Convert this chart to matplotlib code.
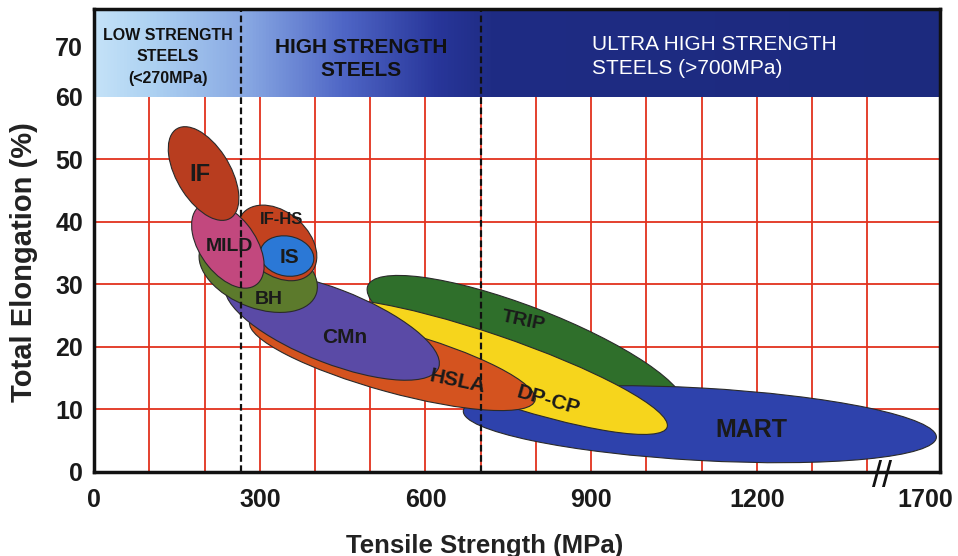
import matplotlib
matplotlib.use('Agg')
import matplotlib.pyplot as plt
import numpy as np
from matplotlib.patches import Ellipse
from matplotlib.transforms import Affine2D
from matplotlib.colors import LinearSegmentedColormap

plt.rcParams['font.family'] = ['Liberation Sans', 'DejaVu Sans']

# steel families, listed in drawing order (bottom first)
steels = ['TRIP', 'MART', 'DP-CP', 'HSLA', 'CMn', 'BH', 'IF-HS', 'IS', 'MILD', 'IF']
centre_mpa = [782, 1097, 717, 540, 431, 297, 331, 349, 242, 198]
centre_pct = [19.9, 7.6, 16.8, 17.7, 23.3, 32.0, 36.6, 34.5, 36.2, 47.7]
# half axes in grid cells (100 MPa x 10 %), tilt in degrees
half_len = [3.03, 4.29, 3.35, 2.66, 2.04, 1.11, 0.785, 0.49, 0.815, 0.866]
half_wid = [0.65, 0.58, 0.52, 0.50, 0.60, 0.585, 0.52, 0.32, 0.485, 0.47]
tilt = [-18.7, -2.8, -16.7, -13.6, -18.7, -17.8, -31.7, -8, -47.4, -53.4]

label_mpa = [777, 1191, 822, 659, 454, 316, 340, 354, 244, 192]
label_pct = [24.0, 6.7, 11.3, 14.5, 21.4, 27.5, 40.3, 34.2, 36.0, 47.5]

colours = ['#2f6f2b', '#2e42ac', '#f6d51c', '#d4531f', '#5a4aa6',
           '#5c7a2c', '#c3421f', '#2b78d6', '#c2487e', '#b83d1f']
label_rot = [-12, 0, -16, -12, 0, 0, 0, 0, 0, 0]
label_size = [14, 18, 15, 15, 15, 14, 12, 15, 14, 17]

x_ticks = [0, 300, 600, 900, 1200, 1505]   # axis is broken after 1400
x_tick_labels = ['0', '300', '600', '900', '1200', '1700']
y_ticks = [0, 10, 20, 30, 40, 50, 60, 68]
y_tick_labels = ['0', '10', '20', '30', '40', '50', '60', '70']
x_grid = np.arange(100, 1500, 100)
y_grid = [10, 20, 30, 40, 50]
class_limits = [265, 700]
xmax, ymax, band_bottom = 1532, 73.95, 60

fig = plt.figure(figsize=(9.58, 5.56), dpi=100)
ax = fig.add_axes([0.0984, 0.1516, 0.8828, 0.8314])

# header band with gradient
stops = [(0, '#c4e2f8'), (100 / xmax, '#aed2f2'), (280 / xmax, '#86a6e2'),
         (450 / xmax, '#4f66c6'), (620 / xmax, '#28369a'), (720 / xmax, '#1f2c84'),
         (1, '#1c2a7e')]
cmap = LinearSegmentedColormap.from_list('band', stops)
grad = np.linspace(0, 1, 512)[None, :]
ax.imshow(grad, extent=[0, xmax, band_bottom, ymax], aspect='auto', cmap=cmap, zorder=0.5)

ax.vlines(x_grid, 0, band_bottom, colors='#e2321e', lw=1.3, zorder=1)
ax.hlines(y_grid, 0, xmax, colors='#e2321e', lw=1.3, zorder=1)

grid_tr = Affine2D().scale(100, 10) + ax.transData
for i, name in enumerate(steels):
    e = Ellipse((centre_mpa[i] / 100, centre_pct[i] / 10), 2 * half_len[i], 2 * half_wid[i],
                angle=tilt[i], transform=grid_tr, facecolor=colours[i],
                edgecolor='#2a2a2a', lw=0.8, zorder=2 + i)
    ax.add_patch(e)
    ax.text(label_mpa[i], label_pct[i], name, ha='center', va='center',
            rotation=label_rot[i], fontsize=label_size[i], fontweight='bold',
            color='#1a1a1a', zorder=30)

ax.vlines(class_limits, 0, ymax, colors='#111111', linestyles=(0, (3, 1.6)), lw=1.6, zorder=25)

ax.text(133, 66.4, 'LOW STRENGTH\nSTEELS\n(<270MPa)', ha='center', va='center',
        fontsize=11.5, fontweight='bold', color='#111111', linespacing=1.55, zorder=30)
ax.text(483, 66.0, 'HIGH STRENGTH\nSTEELS', ha='center', va='center',
        fontsize=15, fontweight='bold', color='#111111', linespacing=1.22, zorder=30)
ax.text(902, 66.4, 'ULTRA HIGH STRENGTH\nSTEELS (>700MPa)', ha='left', va='center',
        fontsize=15, color='white', linespacing=1.3, zorder=30)

ax.text(1427, -1, '//', ha='center', va='center', fontsize=26, color='#111111',
        clip_on=False, zorder=40)

ax.set_xlim(0, xmax)
ax.set_ylim(0, ymax)
ax.set_xticks(x_ticks)
ax.set_xticklabels(x_tick_labels)
ax.set_yticks(y_ticks)
ax.set_yticklabels(y_tick_labels)
ax.tick_params(axis='x', length=0, pad=12, labelsize=18)
ax.tick_params(axis='y', length=0, pad=8, labelsize=18)
for lab in ax.get_xticklabels() + ax.get_yticklabels():
    lab.set_fontweight('bold')
    lab.set_color('#1a1a1a')
for s in ax.spines.values():
    s.set_linewidth(2.5)
    s.set_color('#111111')
    s.set_zorder(50)

fig.text(24 / 958, 0.529, 'Total Elongation (%)', rotation=90, ha='center', va='center',
         fontsize=21, fontweight='bold', color='#222222')
fig.text(485 / 958, 0.006, 'Tensile Strength (MPa)', ha='center', va='baseline',
         fontsize=18.5, fontweight='bold', color='#222222')

fig.savefig('out.png', dpi=100)
